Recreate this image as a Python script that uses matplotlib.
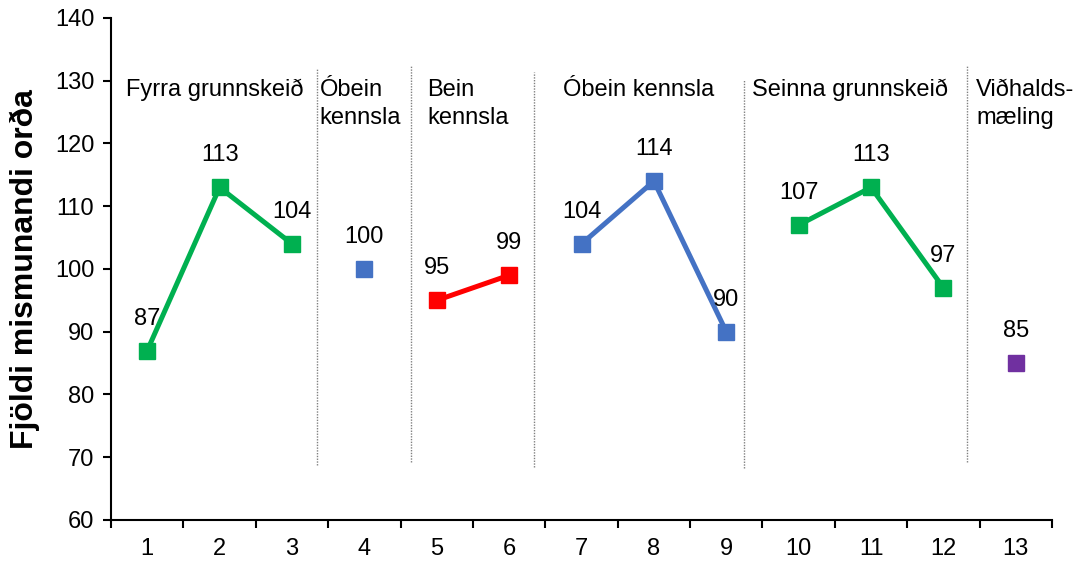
import matplotlib
matplotlib.use("Agg")
import matplotlib.pyplot as plt
import numpy as np

plt.rcParams['font.family'] = ['Liberation Sans', 'DejaVu Sans']

# measurement sessions and number of distinct words
sessions = list(range(1, 14))
words = [87, 113, 104, 100, 95, 99, 104, 114, 90, 107, 113, 97, 85]

# phases: (first index, last index, colour)
phase_runs = [(0, 2, "#00B050"), (3, 3, "#4472C4"), (4, 5, "#FF0000"),
              (6, 8, "#4472C4"), (9, 11, "#00B050"), (12, 12, "#7030A0")]

phase_names = ["Fyrra grunnskeið", "Óbein\nkennsla", "Bein\nkennsla",
               "Óbein kennsla", "Seinna grunnskeið", "Viðhalds-\nmæling"]
phase_name_x = [0.70, 3.38, 4.87, 6.75, 9.35, 12.45]

# dotted separators between phases
sep_x = [3.34, 4.65, 6.34, 9.25, 12.32]
sep_top = [132.0, 132.5, 131.4, 130.1, 132.5]
sep_bottom = [68.8, 69.3, 68.4, 68.3, 69.2]

fig = plt.figure(figsize=(10.77, 5.63), dpi=100)
ax = fig.add_axes([0.1031, 0.0764, 0.8737, 0.8917])

x = np.array(sessions)
y = np.array(words)
for a, b, col in phase_runs:
    ax.plot(x[a:b + 1], y[a:b + 1], color=col, lw=3.6, marker="s",
            ms=12, mec=col, mfc=col, zorder=3)
    for xi, yi in zip(x[a:b + 1], y[a:b + 1]):
        ax.annotate(str(yi), (xi, yi), xytext=(0, 23), textcoords="offset points",
                    ha="center", va="center", fontsize=17)

for sx, st, sb in zip(sep_x, sep_top, sep_bottom):
    ax.plot([sx, sx], [sb, st], color="#808080", lw=1.0, ls=(0, (1, 1)), zorder=1)

# phase titles, one text per line so the first baselines line up
for name, nx in zip(phase_names, phase_name_x):
    for i, line in enumerate(name.split("\n")):
        ax.text(nx, 127.6 - i * 4.46, line, ha="left", va="baseline", fontsize=17)

ax.set_xlim(0.5, 13.5)
ax.set_ylim(60, 140)
ax.set_yticks(np.arange(60, 141, 10))
ax.set_xticks(np.arange(0.5, 13.6, 1))
ax.set_xticklabels([])
ax.set_xticks(sessions, minor=True)
ax.set_xticklabels([str(s) for s in sessions], minor=True)
ax.tick_params(axis="x", which="major", length=6, width=1.5, direction="out")
ax.tick_params(axis="x", which="minor", length=0, pad=13, labelsize=17)
ax.tick_params(axis="y", length=6, width=1.5, pad=6, labelsize=17)

for side in ["top", "right"]:
    ax.spines[side].set_visible(False)
for side in ["left", "bottom"]:
    ax.spines[side].set_linewidth(1.5)

ax.set_ylabel("Fjöldi mismunandi orða", fontsize=23, fontweight="bold")
ax.yaxis.set_label_coords(-0.076, 0.5)

fig.savefig("out.png", dpi=100)
